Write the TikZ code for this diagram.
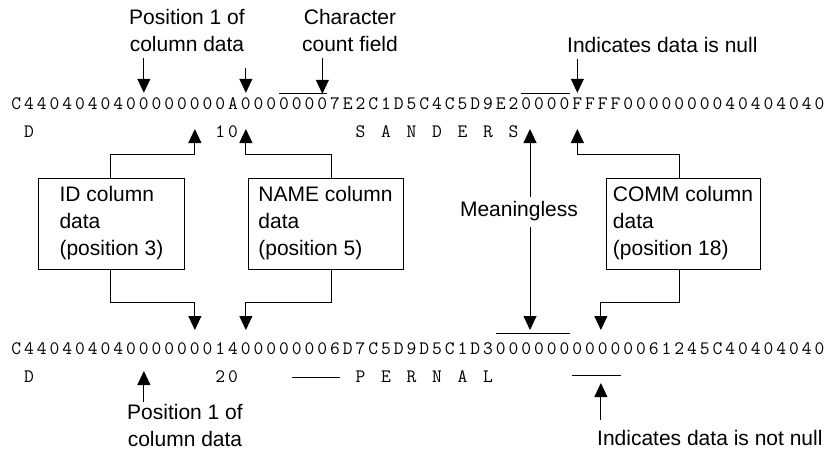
\documentclass[tikz,border=0pt]{standalone}
\usepackage{fontspec}
\newfontfamily\labfont{Liberation Sans}
\usetikzlibrary{arrows.meta,calc}
\makeatletter
\newcount\hx@i
\newcommand\hexrow[3]{\def\hx@p{#1}\def\hx@y{#2}\hx@i=0 \hx@loop#3\relax}
\def\hx@loop#1{%
  \ifx#1\relax\else
    \node[hexch,name=\hx@p\the\hx@i] at ({10+12.75*(\the\hx@i+0.5)},\hx@y) {#1};%
    \advance\hx@i by 1
    \expandafter\hx@loop
  \fi}
\makeatother
\tikzset{
  hexch/.style={font=\ttfamily\fontsize{19}{19}\selectfont, inner sep=0pt, anchor=base, text height=11pt, text depth=0pt},
  lab/.style={font=\labfont\fontsize{21}{27}\selectfont, align=center, inner sep=0pt},
  colbox/.style={draw, line width=0.9pt, font=\labfont\fontsize{21}{27}\selectfont, align=left, inner sep=0pt, minimum height=91pt},
  arr/.style={line width=0.9pt, -{Triangle[length=14pt,width=13pt]}},
  bar/.style={line width=0.9pt},
}
\begin{document}
\begin{tikzpicture}[x=1pt,y=-1pt]
\useasboundingbox (0,0) rectangle (831,452);
% hex rows
\hexrow{t}{110}{C4404040400000000A 00000007 E2C1D5C4C5D9E2 0000 FFFF 00000000 40404040}
\hexrow{b}{354}{C440404040000000 14 00000006 D7C5D9D5C1D3 000000000000 61245C40404040}
% decoded rows
\foreach \ch/\k in {D/1,1/16,0/17,S/27,A/29,N/31,D/33,E/35,R/37,S/39}
  \node[hexch] (u\k) at ({10+12.75*(\k+0.5)},138) {\ch};
\foreach \ch/\k in {D/1,2/16,0/17,P/27,E/29,R/31,N/33,A/35,L/37}
  \node[hexch] (w\k) at ({10+12.75*(\k+0.5)},382) {\ch};
% helper coordinates
\coordinate (ytop) at (0,154);
\coordinate (r2tip) at (0,129);
\coordinate (ybot) at (0,302);
\coordinate (r3tip) at (0,330);
\coordinate (dashy) at (0,377);
\coordinate (uly) at (0,375);
\coordinate (p2tip) at (0,371);
\coordinate (nntip) at (0,383);
\coordinate (mx) at (530,0);
\coordinate (c46) at ($(b46)+(-2,0)$);
% top labels
\node[lab] (pos1) at (187,30.5) {Position 1 of\\column data};
\node[lab] (ccf) at (350,30.5) {Character\\count field};
\node[lab,anchor=west] (nul) at (567,45) {Indicates data is null};
\draw[arr] ($(pos1.south -| t10)+(0,6)$) -- ($(t10.north)+(0,-6)$);
\coordinate (c18) at ($(t18.north)+(0,-31)$);
\draw[arr] (c18) -- ($(t18.north)+(0,-6)$);
\draw[arr] ($(ccf.south -| t24)+(0,6)$) -- ($(t24.north)+(0,-5)$);
\draw[bar] ($(t21.north west)+(0,-5)$) -- ($(t24.north east)+(0,-5)$);
\draw[arr] ($(nul.south -| t44)+(0,6)$) -- ($(t44.north)+(0,-6)$);
\draw[bar] ($(t40.north west)+(0,-5)$) -- ($(t43.north east)+(0,-5)$);
% boxes
\node[colbox, minimum width=146pt] (idb) at (111.5,223.5) {ID column\\data\\(position 3)};
\node[colbox, minimum width=155pt] (nameb) at (325.5,223.5) {NAME column\\data\\(position 5)};
\node[colbox, minimum width=154pt] (commb) at (683,223.5) {COMM column\\data\\(position 18)};
\coordinate (idT) at ($(idb.north)+(-1.5,0)$);
\coordinate (idB) at ($(idb.south)+(-1.5,0)$);
\coordinate (nmT) at ($(nameb.north)+(5.5,0)$);
\coordinate (nmB) at ($(nameb.south)+(5.5,0)$);
\coordinate (cmT) at ($(commb.north)+(-4,0)$);
\coordinate (cmB) at ($(commb.south)+(-4,0)$);
\draw[arr] (idT) -- (idT |- ytop) -| (t14 |- r2tip);
\draw[arr] (nmT) -- (nmT |- ytop) -| (t18 |- r2tip);
\draw[arr] (cmT) -- (cmT |- ytop) -| (t44 |- r2tip);
\draw[arr] (idB) -- (idB |- ybot) -| (b14 |- r3tip);
\draw[arr] (nmB) -- (nmB |- ybot) -| (b18 |- r3tip);
\draw[arr] (cmB) -- (cmB |- ybot) -| (c46 |- r3tip);
% meaningless
\node[lab] (mean) at (519,211) {Meaningless};
\draw[arr] ($(mean.north -| mx)+(0,-4)$) -- (mx |- r2tip);
\draw[arr] ($(mean.south -| mx)+(0,6)$) -- (mx |- r3tip);
\draw[bar] ($(b38.north west)+(0,-9)$) -- ($(b43.north east)+(0,-9)$);
% bottom row marks
\draw[bar] (b22.west |- dashy) -- (b25.east |- dashy);
\draw[bar] (b44.west |- uly) -- (b47.east |- uly);
% bottom labels
\node[lab] (pos2) at (185,425) {Position 1 of\\column data};
\draw[arr] ($(pos2.north -| b10)+(0,-2)$) -- (b10 |- p2tip);
\node[lab,anchor=west] (nnul) at (597,438) {Indicates data is not null};
\draw[arr] ($(nnul.north -| c46)+(0,-10)$) -- (c46 |- nntip);
\end{tikzpicture}
\end{document}
